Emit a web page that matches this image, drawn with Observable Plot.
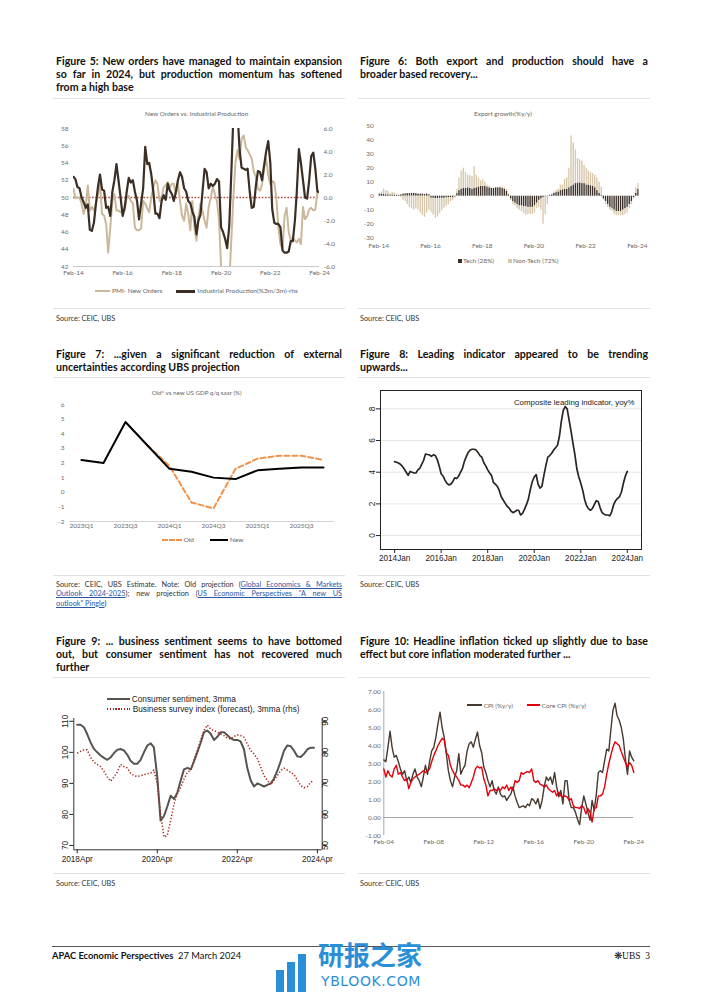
<!DOCTYPE html>
<html><head><meta charset="utf-8">
<script src="https://cdn.jsdelivr.net/npm/d3@7"></script>
<script src="https://cdn.jsdelivr.net/npm/@observablehq/plot@0.6"></script>
<style>
body{margin:0;background:#fff;}
#page{position:relative;width:702px;height:992px;background:#fff;font-family:Lato,"Open Sans",sans-serif;color:#000;overflow:hidden;}
#page svg{position:absolute;}
.sw{display:inline-block;vertical-align:middle;}
a{color:#2a55a5;text-decoration:underline;}
</style></head><body><div id="page"></div>
<script>
// ---------- DATA ----------
// Figure 5 (monthly, Feb-14 .. Feb-24)
const pmiNewOrders = [51.0,49.9,50.0,50.0,49.3,48.1,48.9,51.4,48.5,48.9,
 48.5,49.3,50.4,51.6,48.1,47.9,46.9,43.6,46.5,49.6,
 50.4,48.5,48.5,48.3,48.5,48.5,50.0,50.2,49.6,49.3,
 46.5,46.2,46.2,46.4,49.6,49.3,48.7,48.3,50.0,51.2,
 52.0,51.6,49.6,50.0,51.2,51.4,51.8,51.2,51.6,51.6,
 50.4,51.6,49.6,47.9,47.3,49.3,48.1,46.2,49.6,46.5,
 45.0,47.7,49.3,48.5,47.3,46.5,48.9,50.0,51.2,50.4,
 49.6,47.5,42.0,37.0,35.0,37.0,40.0,45.0,50.0,54.0,
 55.5,54.5,56.8,57.2,55.8,55.5,55.0,54.5,53.0,52.4,
 51.0,50.8,51.5,53.5,54.5,52.6,51.5,51.9,51.7,50.0,
 46.5,44.6,44.0,47.9,48.8,46.0,45.0,45.4,45.0,44.8,
 45.2,44.6,48.9,47.5,47.8,48.6,48.8,48.5,48.6,50.6,
 50.5];
const industrialProduction = [1.8,1.6,0.9,0.8,0.0,-0.4,-0.9,-0.6,-2.8,-2.9,
 -2.2,-0.5,1.0,2.0,0.7,0.6,-0.9,-0.8,-1.6,0.5,
 1.5,2.9,1.5,0.0,-1.6,-0.9,0.5,1.7,1.3,1.5,
 0.5,-0.3,-1.9,-0.5,0.8,4.4,2.9,3.0,2.0,0.5,
 -1.4,-1.4,-1.8,-0.3,0.2,-0.2,1.2,0.6,0.3,-0.3,
 0.5,1.5,2.2,1.8,0.8,0.5,-0.3,-0.5,-1.2,-1.7,
 -3.2,-2.0,-1.5,0.5,2.5,2.2,0.8,1.2,1.0,1.2,
 1.6,1.4,-2.6,-3.0,-3.6,-4.4,-2.5,2.0,7.0,9.0,
 7.5,4.2,2.6,2.5,2.4,2.5,0.5,-0.9,-0.8,1.0,
 2.3,2.2,1.5,2.8,4.0,4.9,3.0,-1.0,-2.2,-2.3,
 -2.3,-2.6,-4.6,-4.8,-4.8,-4.7,-3.8,-3.8,-2.0,0.5,
 4.2,3.0,1.5,0.0,-0.1,1.5,3.6,3.9,2.5,0.5,
 0.5];
const fig5Ticks = ["Feb-14","Feb-16","Feb-18","Feb-20","Feb-22","Feb-24"];

// Figure 6 (monthly export growth contributions, Feb-14 .. Feb-24)
const exportTech = [1.5,1.5,1.5,1.0,1.0,0.8,0.8,0.8,0.5,0.5,
 1.0,1.5,1.8,1.8,1.8,2.0,2.0,1.8,1.5,1.5,
 1.5,1.2,1.5,1.0,-1.5,-1.5,-1.8,-1.8,-1.5,-1.5,
 -1.5,-1.2,-1.2,-1.0,-1.2,-0.5,2.0,4.0,5.0,5.5,
 5.5,6.0,5.5,5.0,5.5,6.0,6.5,7.0,7.0,7.0,
 6.5,6.0,5.5,5.5,6.0,6.0,6.0,5.5,5.0,3.5,
 1.0,-2.0,-4.0,-5.0,-6.0,-7.0,-7.0,-7.5,-7.5,-8.0,
 -8.0,-8.0,-7.0,-5.0,-3.0,-2.0,-1.0,-0.5,-0.5,0.5,
 1.0,2.0,2.5,3.0,4.0,4.5,5.0,5.0,6.0,7.0,
 8.0,9.0,9.5,9.5,9.0,9.0,8.0,8.0,7.5,7.0,
 6.0,4.0,2.0,0.5,-2.0,-4.0,-6.0,-8.0,-9.0,-10.0,
 -11.0,-11.0,-11.0,-10.0,-9.0,-8.0,-6.0,-4.0,-1.0,2.0,
 5.0];
const exportNonTech = [0.5,1.5,3.5,3.0,2.5,1.0,2.0,1.5,1.0,0.5,
 -1.0,-3.0,-4.0,-6.0,-8.0,-9.0,-10.0,-9.0,-10.0,-12.0,
 -14.0,-15.0,-12.0,-10.0,-10.0,-12.0,-14.0,-13.0,-11.0,-9.0,
 -7.0,-6.0,-5.0,-3.0,-2.0,-1.0,3.0,9.0,13.0,14.5,
 11.5,9.0,9.5,9.0,15.5,9.0,6.5,4.0,5.0,3.0,
 1.5,1.0,0.5,0.0,-0.5,0.5,0.5,1.0,1.0,1.5,
 0.5,-1.0,-2.0,-2.0,-3.0,-3.0,-4.0,-5.0,-6.0,-5.0,
 -5.0,-5.0,-5.0,-4.0,-5.0,-8.0,-19.0,-12.5,-5.5,0.5,
 0.5,1.0,1.5,2.0,4.0,3.5,7.0,8.0,14.0,36.0,
 30.0,24.0,17.5,16.5,16.0,13.0,12.0,10.0,9.5,9.0,
 9.0,9.0,8.0,6.0,-1.0,-2.0,-2.0,-2.0,-2.0,-3.0,
 -3.0,-3.0,-3.0,-4.0,-4.0,-4.0,-3.0,-2.0,-1.0,4.0,
 4.0];
const exportSeries = ["Tech (28%)","Non-Tech (72%)"];

// Figure 7 (quarterly US GDP q/q saar)
const gdpQuarters = ["2023Q1","2023Q2","2023Q3","2023Q4","2024Q1","2024Q2","2024Q3","2024Q4","2025Q1","2025Q2","2025Q3","2025Q4"];
const gdpOld = [null,null,null,3.2,1.8,-0.7,-1.1,1.6,2.3,2.5,2.5,2.2];
const gdpNew = [2.2,2.0,4.8,3.2,1.6,1.4,1.0,0.9,1.5,1.6,1.7,1.7];

// Figure 8 (monthly composite leading indicator yoy%, 2014Jan .. 2024Jan)
const compositeLeading = [4.67,4.63,4.58,4.5,4.38,4.2,4.0,3.8,4.05,4.0,
 3.95,3.95,4.15,4.25,4.5,4.75,5.15,5.12,5.1,5.0,
 5.1,5.05,4.8,4.4,3.9,3.75,3.5,3.3,3.2,3.25,
 3.4,3.65,3.6,3.75,4.0,4.25,4.7,5.0,5.25,5.4,
 5.45,5.45,5.4,5.25,5.05,4.95,4.6,4.4,4.15,3.95,
 3.8,3.35,3.25,3.1,2.85,2.45,2.25,2.05,1.85,1.75,
 1.55,1.45,1.5,1.6,1.6,1.3,1.4,1.65,1.95,2.3,
 2.9,3.4,3.7,3.85,3.25,3.0,3.1,3.8,4.4,4.95,
 5.05,5.2,5.4,5.55,5.7,6.3,7.2,7.9,8.15,8.0,
 7.3,6.6,5.8,5.1,4.2,3.7,3.3,2.85,2.3,1.9,
 1.7,1.6,1.7,1.95,2.2,2.15,1.75,1.45,1.35,1.3,
 1.3,1.25,1.5,1.95,2.2,2.35,2.45,2.75,3.3,3.75,
 4.05];
const fig8Years = [2014,2016,2018,2020,2022,2024];

// Figure 9 (monthly 3mma, 2018Apr .. 2024Mar)
const consumerSentiment = [108.9,108.9,108.1,105.9,103.2,101.1,100.0,99.0,98.2,97.6,
 98.4,99.7,100.8,101.1,100.6,99.3,97.3,96.3,96.3,97.6,
 100.0,102.2,102.9,101.6,92.0,78.0,79.5,82.5,86.0,85.0,
 87.0,91.0,94.5,95.0,94.5,97.0,100.0,103.0,106.5,107.0,
 106.0,104.0,105.0,106.5,106.5,105.5,104.5,104.0,104.0,103.5,
 101.0,95.0,91.0,89.0,90.0,89.5,89.0,89.5,90.0,91.5,
 94.0,97.0,100.5,102.2,102.0,100.5,98.7,98.5,99.5,101.0,
 101.5,101.5];
const businessSurvey = [79.7,80.3,80.8,80.8,78.4,76.8,76.1,75.4,73.9,72.0,
 70.7,72.0,73.6,76.1,75.4,75.0,73.3,72.5,72.2,72.5,
 72.8,73.1,73.3,74.3,69.8,60.2,52.7,53.2,58.0,63.4,
 66.6,68.8,71.4,73.6,74.3,77.3,80.6,83.8,87.0,88.8,
 87.5,87.0,86.5,85.9,85.4,84.6,84.3,85.1,85.6,85.4,
 84.9,82.7,80.6,79.5,77.9,75.2,72.5,70.9,69.6,70.9,
 72.5,74.1,74.9,74.3,73.6,72.8,71.1,69.3,68.6,69.0,
 70.4,70.9];
const fig9Years = [2018,2020,2022,2024];

// Figure 10 (every second month, Feb-04 .. Feb-24)
const cpiHeadline = [3.2,3.1,3.9,4.8,3.9,3.35,3.45,3.1,2.7,2.4,
 2.6,2.05,2.25,1.95,2.4,2.7,2.25,2.05,1.7,2.25,
 2.9,2.4,3.1,3.7,3.9,4.45,5.2,5.85,5.0,4.45,
 3.55,2.6,2.05,1.7,2.25,2.6,3.55,2.4,2.7,2.9,
 3.7,4.1,4.2,3.9,4.35,4.75,4.0,3.6,2.8,2.5,
 2.05,1.7,2.05,1.5,1.3,1.7,1.3,1.15,1.2,0.95,
 1.15,1.3,1.7,1.2,0.85,0.55,0.6,0.65,0.55,0.75,
 0.65,1.05,0.95,0.75,1.05,0.5,0.95,1.7,2.25,2.05,
 2.25,1.85,2.5,1.7,1.15,1.5,0.75,2.05,2.05,0.95,
 0.55,0.55,0.3,-0.1,-0.4,0.55,1.2,0.75,0.3,-0.15,
 0.95,0.4,1.3,2.5,2.6,2.5,3.15,3.8,3.7,4.85,
 5.95,6.35,5.65,5.4,5.0,4.35,3.25,2.4,3.7,3.35,
 3.15];
const cpiCore = [2.7,2.25,2.6,2.35,2.25,2.7,2.9,2.4,2.5,2.25,
 2.05,2.15,1.6,1.95,2.15,2.25,2.35,2.4,2.5,2.6,
 2.5,2.6,2.7,3.1,3.45,3.7,4.0,4.2,4.4,4.3,
 3.6,3.45,2.9,2.6,2.4,2.25,2.05,1.8,1.8,1.7,
 1.8,1.65,1.95,2.25,2.7,2.85,2.75,2.8,2.15,1.8,
 1.2,1.5,1.5,1.6,1.5,1.6,1.5,1.7,1.6,1.8,
 1.5,1.7,1.5,2.05,1.95,2.05,2.5,2.4,2.5,2.55,
 2.5,2.7,2.05,1.95,2.05,1.85,1.8,1.7,1.8,1.6,
 1.5,1.4,1.5,1.2,1.4,1.2,1.15,1.2,1.15,0.95,
 1.05,0.65,0.55,0.55,0.5,0.65,0.55,0.2,0.5,0.3,
 -0.25,0.5,0.55,1.2,1.2,1.3,1.7,2.4,3.0,3.45,
 3.9,4.2,4.1,4.0,3.65,3.35,3.05,2.8,3.05,2.9,
 2.5];
const fig10Ticks = ["Feb-04","Feb-08","Feb-12","Feb-16","Feb-20","Feb-24"];

// ---------- HELPERS ----------
const page = document.getElementById("page");
const U = (y, m, d = 1) => new Date(Date.UTC(y, m, d));
const fmtMonYY = d3.utcFormat("%b-%y");
const parseMonYY = d3.utcParse("%b-%y");
function add(html, style) {
  const e = document.createElement("div");
  e.innerHTML = html;
  e.style.position = "absolute";
  Object.assign(e.style, style);
  page.appendChild(e);
  return e;
}
function put(svg, left, top) { svg.style.left = left + "px"; svg.style.top = top + "px"; page.appendChild(svg); }
function block(lines, left, top, width, nJustify, base, lh, extra) {
  const box = add("", Object.assign({left: left + "px", top: top + "px", width: width + "px", fontSize: base + "px", lineHeight: lh + "px"}, extra));
  lines.forEach((t, i) => {
    const d = document.createElement("div");
    d.innerHTML = t;
    if (i < nJustify) { d.style.textAlign = "justify"; d.style.textAlignLast = "justify"; }
    box.appendChild(d);
  });
  let maxW = 0;
  box.querySelectorAll("div").forEach(d => {
    const s = document.createElement("span");
    s.innerHTML = d.innerHTML; s.style.whiteSpace = "nowrap"; s.style.position = "absolute"; s.style.visibility = "hidden";
    box.appendChild(s); maxW = Math.max(maxW, s.getBoundingClientRect().width); s.remove();
  });
  if (maxW > width) box.style.fontSize = (base * width / maxW * 0.985) + "px";
  return box;
}
function title(lines, left, top, width, nJ) {
  return block(lines, left, top, width, nJ, 10.6, 13, {fontWeight: "700", color: "#111"});
}
function sep(left, top, width, color = "#e2e2e2") { add("", {left: left + "px", top: top + "px", width: width + "px", height: "1px", background: color}); }
function source(lines, left, top, width, nJ) {
  return block(lines, left, top, width, nJ, 7.3, 9.5, {color: "#333"});
}
function ctext(t, cx, cy, size, color) {
  add(t, {left: (cx - 120) + "px", top: (cy - size * 0.7) + "px", width: "240px", textAlign: "center", fontSize: size + "px", lineHeight: (size * 1.4) + "px", color});
}
function legend(items, left, cy, size, color, family) {
  const html = items.map(it => `<span style="display:inline-block;margin-left:${it.gap||0}px">${it.sw}<span style="vertical-align:middle">${it.label}</span></span>`).join("");
  add(html, {left: left + "px", top: (cy - size * 0.75) + "px", fontSize: size + "px", lineHeight: (size * 1.5) + "px", color, whiteSpace: "nowrap", fontFamily: family || "inherit"});
}
const lineSw = (w, color, h, dash) => dash
  ? `<span class="sw" style="width:${w}px;height:0;border-top:${h}px dashed ${color};margin-right:2px"></span>`
  : `<span class="sw" style="width:${w}px;height:${h}px;background:${color};margin-right:2px"></span>`;
const dotSw = (w, color, h) => `<span class="sw" style="width:${w}px;height:${h}px;background:repeating-linear-gradient(90deg, ${color} 0 1.4px, transparent 1.4px 2.8px);margin-right:3px"></span>`;
const sqSw = (s, color) => `<span class="sw" style="width:${s}px;height:${s}px;background:${color};margin-right:1px"></span>`;

const excelStyle = {fontFamily: "Lato, sans-serif", fontSize: "6.5px", color: "#6b6b6b", background: "transparent", overflow: "visible"};
const stataStyle = {fontFamily: "'Liberation Sans', Arial, sans-serif", fontSize: "8.2px", color: "#222", background: "transparent", overflow: "visible"};

// ---------- FIGURE 5 ----------
title(["Figure 5: New orders have managed to maintain expansion", "so far in 2024, but production momentum has softened", "from a high base"], 56, 54.5, 286, 2);
sep(53, 98, 292);
ctext("New Orders vs. Industrial Production", 196.7, 114, 6.4, "#666");
{
  const d5 = pmiNewOrders.map((v, i) => ({date: U(2014, 1 + i), pmi: v, ip: industrialProduction[i]}));
  const ipToLeft = v => 50 + v * 4 / 3;
  const svg = Plot.plot({
    width: 300, height: 195, marginLeft: 23, marginRight: 31, marginTop: 23, marginBottom: 34,
    style: excelStyle,
    x: {type: "utc", domain: [U(2014, 1), U(2024, 1)], label: null},
    y: {domain: [42, 58], label: null},
    marks: [
      Plot.ruleY([42], {stroke: "#c8c8c8"}),
      Plot.ruleY([50], {stroke: "#b8473c", strokeDasharray: "1.6,1.6", strokeWidth: 1.3}),
      Plot.lineY(d5, {x: "date", y: "pmi", stroke: "#cbb89a", strokeWidth: 2, clip: true}),
      Plot.lineY(d5, {x: "date", y: d => ipToLeft(d.ip), stroke: "#3b2e24", strokeWidth: 2.2, clip: true}),
      Plot.axisY({anchor: "left", ticks: d3.range(42, 59, 2), tickSize: 0, tickPadding: 5, label: null}),
      Plot.axisY({anchor: "right", ticks: d3.range(-6, 6.01, 2).map(ipToLeft), tickFormat: d => ((d - 50) * 0.75).toFixed(1), tickSize: 0, tickPadding: 4, label: null}),
      Plot.axisX({ticks: fig5Ticks.map(parseMonYY), tickFormat: fmtMonYY, tickSize: 0, tickPadding: 4, label: null})
    ]
  });
  put(svg, 50, 105);
}
legend([{sw: lineSw(15, "#cbb89a", 2), label: "PMI- New Orders"}, {sw: lineSw(19, "#3b2e24", 2.2), label: "Industrial Production(%3m/3m)-rhs", gap: 14}], 95, 291, 6.5, "#666");
sep(53, 308, 292);
source(["Source: CEIC, UBS"], 56, 313.5, 286, 0);

// ---------- FIGURE 6 ----------
title(["Figure 6: Both export and production should have a", "broader based recovery..."], 360, 54.5, 288, 1);
sep(358, 98, 292);
ctext("Export growth(%y/y)", 503, 114.3, 6.4, "#666");
{
  const d6 = [];
  exportTech.forEach((v, i) => {
    const date = U(2014, 1 + i);
    d6.push({date, series: exportSeries[0], value: v});
    d6.push({date, series: exportSeries[1], value: exportNonTech[i]});
  });
  const svg = Plot.plot({
    width: 300, height: 150, marginLeft: 23.3, marginRight: 16.1, marginTop: 20.7, marginBottom: 17.3,
    style: excelStyle,
    x: {type: "utc", domain: [U(2014, 1), U(2024, 2)], label: null},
    y: {domain: [-30, 50], label: null},
    color: {domain: exportSeries, range: ["#3b3029", "#d8c8ab"]},
    marks: [
      Plot.rectY(d6, {x: "date", y: "value", interval: "month", fill: "series", order: exportSeries, insetLeft: 0.4, insetRight: 0.4}),
      Plot.axisY({ticks: d3.range(-30, 51, 10), tickFormat: d => String(d), tickSize: 0, tickPadding: 5, label: null}),
      Plot.axisX({ticks: fig5Ticks.map(parseMonYY), tickFormat: fmtMonYY, tickSize: 0, tickPadding: 5, label: null})
    ]
  });
  put(svg, 355, 105);
}
legend([{sw: sqSw(4, "#3b3029"), label: exportSeries[0]}, {sw: sqSw(4, "#d8c8ab"), label: exportSeries[1], gap: 14}], 458, 260.7, 6.5, "#666");
sep(358, 308, 292);
source(["Source: CEIC, UBS"], 360, 313.5, 288, 0);

// ---------- FIGURE 7 ----------
title(["Figure 7: ...given a significant reduction of external", "uncertainties according UBS projection"], 56, 347.5, 286, 1);
sep(53, 377, 292);
ctext("Old* vs new US GDP q/q saar (%)", 196.7, 393.3, 6.2, "#666");
{
  const d7 = gdpQuarters.map((q, i) => ({q, old: gdpOld[i], nw: gdpNew[i]}));
  const svg = Plot.plot({
    width: 300, height: 165, marginLeft: 19, marginRight: 16, marginTop: 24, marginBottom: 24,
    style: excelStyle,
    x: {type: "point", domain: gdpQuarters, padding: 0.5, label: null},
    y: {domain: [-2, 6], label: null},
    marks: [
      Plot.ruleY([-2], {stroke: "#d4d4d4"}),
      Plot.lineY(d7.filter(d => d.old != null), {x: "q", y: "old", stroke: "#f0924a", strokeWidth: 2, strokeDasharray: "5,3"}),
      Plot.lineY(d7, {x: "q", y: "nw", stroke: "#000", strokeWidth: 2}),
      Plot.axisY({ticks: d3.range(-2, 7), tickFormat: d => String(d), tickSize: 0, tickPadding: 5, label: null}),
      Plot.axisX({ticks: gdpQuarters.filter((q, i) => i % 2 === 0), tickSize: 0, tickPadding: 1.5, label: null})
    ]
  });
  put(svg, 50, 380);
}
legend([{sw: lineSw(20, "#f0924a", 2, true), label: "Old"}, {sw: lineSw(18, "#000", 2), label: "New", gap: 16}], 161.7, 540, 6.5, "#666");
sep(53, 575, 292);
source(['Source: CEIC, UBS Estimate. Note: Old projection (<a>Global Economics &amp; Markets</a>',
        '<a>Outlook 2024-2025</a>); new projection (<a>US Economic Perspectives "A new US</a>',
        '<a>outlook" Pingle</a>)'], 56, 579.5, 286, 2);

// ---------- FIGURE 8 ----------
title(["Figure 8: Leading indicator appeared to be trending", "upwards..."], 360, 347.5, 288, 1);
sep(358, 377, 292);
{
  const d8 = compositeLeading.map((v, i) => ({date: U(2014, i), v}));
  const svg = Plot.plot({
    width: 300, height: 195, marginLeft: 25, marginRight: 14, marginTop: 15, marginBottom: 21,
    style: stataStyle,
    x: {type: "utc", domain: [U(2013, 4, 24), U(2024, 7, 11)], label: null},
    y: {domain: [-0.88, 9.16], label: null},
    marks: [
      Plot.gridY([0, 2, 4, 6, 8], {stroke: "#e4e4e4", strokeOpacity: 1}),
      Plot.frame({stroke: "#222"}),
      Plot.lineY(d8, {x: "date", y: "v", stroke: "#2b2421", strokeWidth: 1.7}),
      Plot.axisY({ticks: [0, 2, 4, 6, 8], tickSize: 4, tickPadding: 2, tickRotate: -90, label: null}),
      Plot.axisX({ticks: fig8Years.map(y => U(y, 0)), tickFormat: d3.utcFormat("%YJan"), tickSize: 4, tickPadding: 2, label: null}),
      Plot.text(["Composite leading indicator, yoy%"], {frameAnchor: "top-right", dx: -7, dy: 9, fontSize: 7.9, fill: "#222"})
    ]
  });
  put(svg, 355, 375);
}
sep(358, 575, 292);
source(["Source: CEIC, UBS"], 360, 579.5, 288, 0);

// ---------- FIGURE 9 ----------
title(["Figure 9: ... business sentiment seems to have bottomed", "out, but consumer sentiment has not recovered much", "further"], 56, 634.5, 286, 2);
sep(53, 677, 292);
{
  const d9 = consumerSentiment.map((v, i) => ({date: U(2018, 3 + i), cs: v, bs: businessSurvey[i]}));
  const bsToLeft = v => v + 20;
  const x0 = U(2018, 2, 1), x1 = U(2024, 4, 15);
  const svg = Plot.plot({
    width: 300, height: 155, marginLeft: 23.3, marginRight: 28.3, marginTop: 6, marginBottom: 17.7,
    style: stataStyle,
    x: {type: "utc", domain: [x0, x1], label: null},
    y: {domain: [68.6, 110.9], label: null},
    marks: [
      Plot.ruleX([x0], {stroke: "#333"}),
      Plot.ruleX([x1], {stroke: "#333"}),
      Plot.ruleY([68.6], {stroke: "#333"}),
      Plot.lineY(d9, {x: "date", y: "cs", stroke: "#57544f", strokeWidth: 2}),
      Plot.lineY(d9, {x: "date", y: d => bsToLeft(d.bs), stroke: "#a3291d", strokeWidth: 1.5, strokeDasharray: "1.3,1.9", strokeLinecap: "butt"}),
      Plot.axisY({anchor: "left", ticks: [70, 80, 90, 100, 110], tickSize: 4, tickPadding: 2, tickRotate: -90, label: null}),
      Plot.axisY({anchor: "right", ticks: [50, 60, 70, 80, 90].map(bsToLeft), tickFormat: d => String(d - 20), tickSize: 4, tickPadding: 2, tickRotate: -90, label: null}),
      Plot.axisX({ticks: fig9Years.map(y => U(y, 3)), tickFormat: d3.utcFormat("%Y%b"), tickSize: 4, tickPadding: 2, label: null})
    ]
  });
  put(svg, 50, 712);
}
legend([{sw: lineSw(23, "#57544f", 2), label: "Consumer sentiment, 3mma"}], 106.7, 698.3, 8.3, "#222", "'Liberation Sans', Arial, sans-serif");
legend([{sw: dotSw(23, "#a3291d", 1.6), label: "Business survey index (forecast), 3mma (rhs)"}], 106.7, 708.6, 8.3, "#222", "'Liberation Sans', Arial, sans-serif");
sep(53, 873, 292);
source(["Source: CEIC, UBS"], 56, 879, 286, 0);

// ---------- FIGURE 10 ----------
title(["Figure 10: Headline inflation ticked up slightly due to base", "effect but core inflation moderated further ..."], 360, 634.5, 288, 1);
sep(358, 677, 292);
{
  const d10 = cpiHeadline.map((v, i) => ({date: U(2004, 1 + 2 * i), cpi: v, core: cpiCore[i]}));
  const x0 = U(2004, 1), x1 = U(2024, 1);
  const svg = Plot.plot({
    width: 300, height: 170, marginLeft: 28.3, marginRight: 21.7, marginTop: 9, marginBottom: 17,
    style: excelStyle,
    x: {type: "utc", domain: [x0, x1], label: null},
    y: {domain: [-1, 7], label: null},
    marks: [
      Plot.ruleY([0], {stroke: "#a8a8a8"}),
      Plot.ruleX([x0], {stroke: "#a8a8a8"}),
      Plot.lineY(d10, {x: "date", y: "cpi", stroke: "#46392f", strokeWidth: 1.4}),
      Plot.lineY(d10, {x: "date", y: "core", stroke: "#e2000c", strokeWidth: 1.4}),
      Plot.axisY({ticks: d3.range(-1, 7.01, 1), tickFormat: d => d.toFixed(2), tickSize: 0, tickPadding: 3, label: null}),
      Plot.axisX({ticks: fig10Ticks.map(parseMonYY), tickFormat: fmtMonYY, tickSize: 0, tickPadding: 4, label: null})
    ]
  });
  put(svg, 355, 682);
}
legend([{sw: lineSw(15, "#46392f", 1.5), label: "CPI (%y/y)"}, {sw: lineSw(13, "#e2000c", 1.5), label: "Core CPI (%y/y)", gap: 14}], 466.7, 704.3, 6.4, "#666");
sep(358, 873, 292);
source(["Source: CEIC, UBS"], 360, 879, 288, 0);

// ---------- FOOTER ----------
sep(52, 946, 598, "#555");
add('<b>APAC Economic Perspectives</b>&nbsp;&nbsp;27 March 2024', {left: "52px", top: "950px", fontSize: "9.3px", lineHeight: "12px", color: "#111"});
add('<span style="font-size:10px">&#10059;</span>UBS&nbsp;&nbsp;3', {left: "560px", width: "90px", textAlign: "right", top: "950px", fontSize: "9.5px", lineHeight: "12px", fontFamily: "'Liberation Serif', serif", color: "#111"});
// watermark
add("", {left: "276px", top: "970px", width: "8px", height: "22px", background: "#2b8fd8"});
add("", {left: "287px", top: "962px", width: "8px", height: "30px", background: "#2b8fd8"});
add("", {left: "298px", top: "954px", width: "8px", height: "38px", background: "#2b8fd8"});
add("研报之家", {left: "318px", top: "941px", fontSize: "26px", lineHeight: "26px", color: "#2b8fd8", fontFamily: "'Noto Sans CJK SC', sans-serif", fontWeight: "700"});
add("YBLOOK.COM", {left: "321px", top: "974px", fontSize: "14px", lineHeight: "15px", color: "#2b8fd8", fontFamily: "'DejaVu Sans', sans-serif", letterSpacing: "0.6px"});
</script>
</body></html>
